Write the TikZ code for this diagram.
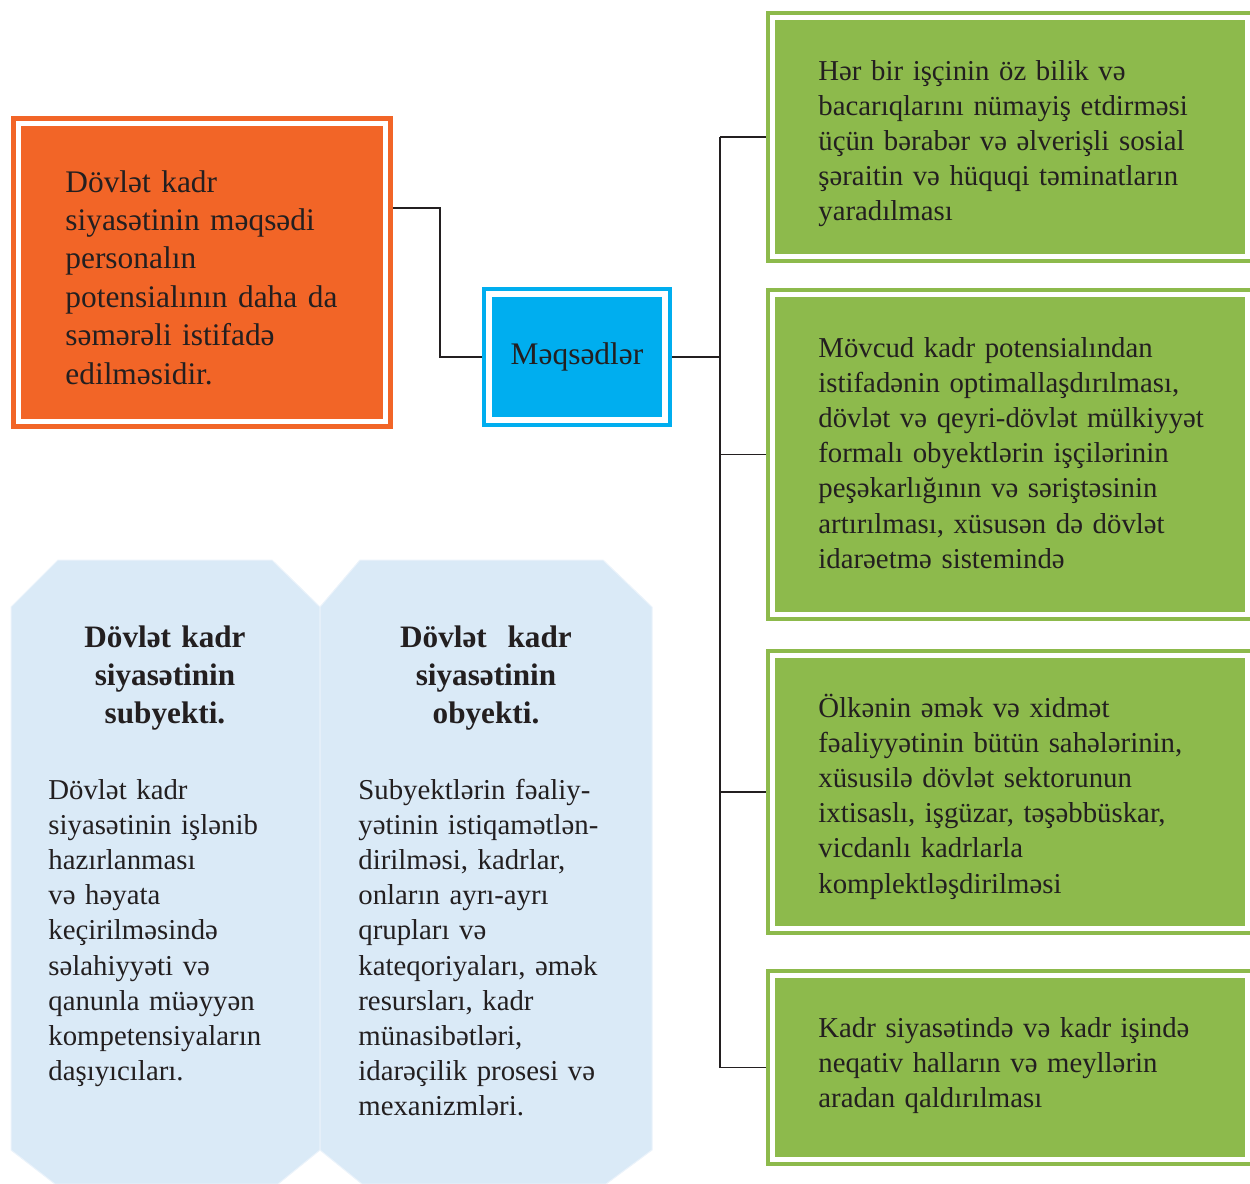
\documentclass[tikz,border=0pt]{standalone}
\usepackage{fontspec}
\setmainfont{Liberation Serif}
\usepackage{tikz}
\usetikzlibrary{positioning, calc}

\definecolor{kadrorange}{HTML}{F26527}
\definecolor{kadrblue}{HTML}{00AEEF}
\definecolor{kadrgreen}{HTML}{8DBA4C}
\definecolor{kadrpale}{HTML}{DAEAF7}
\definecolor{kadrink}{HTML}{231F20}

\newcommand\kadrbody{\fontsize{14.4pt}{17.6pt}\selectfont}
\newcommand\kadrbig{\fontsize{15.7pt}{19.2pt}\selectfont}
\newcommand\kadrhead{\fontsize{15.6pt}{19pt}\selectfont\bfseries}

\tikzset{
  goalbox/.style={draw=kadrorange, double=white, line width=2.5pt, double distance=2.5pt,
    fill=kadrorange, inner sep=0pt, outer sep=3.75pt},
  aimbox/.style={draw=kadrblue, double=white, line width=2pt, double distance=3pt,
    fill=kadrblue, inner sep=0pt, outer sep=3.5pt, font=\kadrbig,
    minimum width=88pt, minimum height=63pt},
  taskbox/.style={draw=kadrgreen, double=white, line width=2pt, double distance=2.5pt,
    fill=kadrgreen, inner sep=0pt, outer sep=3.25pt, minimum width=237.5pt},
  boxtext/.style={anchor=base west, inner sep=0pt, align=left, font=\kadrbody, text width=#1},
  octhead/.style={anchor=base, inner sep=0pt, align=center, font=\kadrhead, text width=140pt},
  octshape/.style={fill=kadrpale, draw=white!45!kadrpale, line width=0.5pt},
  link/.style={draw=kadrink, line width=0.75pt}
}

\begin{document}
\begin{tikzpicture}[x=0.5pt, y=-0.5pt, text=kadrink]
  \useasboundingbox (0,0) rectangle (1250,1184);
  \clip (0,0) rectangle (1250,1184);

  % subject and object panels
  \path[octshape] (11,607) -- (58,560) -- (272,560) -- (320,607) -- (320,1150)
    -- (278,1184) -- (55,1184) -- (11,1150) -- cycle;
  \path[octshape] (320,607) -- (360,560) -- (603,560) -- (652,607) -- (652,1150)
    -- (606,1184) -- (362,1184) -- (320,1150) -- cycle;

  \node[octhead] (subjhead) at (165,647) {Dövlət kadr\\siyasətinin\\subyekti.};
  \node[boxtext=130pt] (subjtext) at (48,799) {Dövlət kadr\\siyasətinin işlənib\\hazırlanması\\və həyata\\keçirilməsində\\səlahiyyəti və\\qanunla müəyyən\\kompetensiyaların\\daşıyıcıları.};
  \node[octhead] (objhead) at (486,647) {Dövlət~ kadr\\siyasətinin\\obyekti.};
  \node[boxtext=140pt] (objtext) at (358,799) {Subyektlərin fəaliy-\\yətinin istiqamətlən-\\dirilməsi, kadrlar,\\onların ayrı-ayrı\\qrupları və\\kateqoriyaları, əmək\\resursları, kadr\\münasibətləri,\\idarəçilik prosesi və\\mexanizmləri.};

  % goal and aims
  \node[goalbox, minimum width=183.5pt, minimum height=149pt] (goal) at (202,272.5) {};
  \node[boxtext=155pt, font=\kadrbig] (goaltext) at (65,192) {Dövlət kadr\\siyasətinin məqsədi\\personalın\\potensialının daha da\\səmərəli istifadə\\edilməsidir.};
  \node[aimbox] (aims) at (577,357) {Məqsədlər};

  % the four aims
  \node[taskbox, minimum height=119.5pt] (g1) at (1010,137) {};
  \node[taskbox, minimum height=160pt] (g2) at (1010,454.5) {};
  \node[taskbox, minimum height=136.5pt] (g3) at (1010,792) {};
  \node[taskbox, minimum height=92pt] (g4) at (1010,1067.5) {};

  \node[boxtext=210pt] (t1) at (818,80) {Hər bir işçinin öz bilik və\\bacarıqlarını nümayiş etdirməsi\\üçün bərabər və əlverişli sosial\\şəraitin və hüquqi təminatların\\yaradılması};
  \node[boxtext=210pt] (t2) at (818,357) {Mövcud kadr potensialından\\istifadənin optimallaşdırılması,\\dövlət və qeyri-dövlət mülkiyyət\\formalı obyektlərin işçilərinin\\peşəkarlığının və səriştəsinin\\artırılması, xüsusən də dövlət\\idarəetmə sistemində};
  \node[boxtext=210pt] (t3) at (818,717) {Ölkənin əmək və xidmət\\fəaliyyətinin bütün sahələrinin,\\xüsusilə dövlət sektorunun\\ixtisaslı, işgüzar, təşəbbüskar,\\vicdanlı kadrlarla\\komplektləşdirilməsi};
  \node[boxtext=210pt] (t4) at (818,1037) {Kadr siyasətində və kadr işində\\neqativ halların və meyllərin\\aradan qaldırılması};

  % connectors
  \coordinate (elbow) at (440,208);
  \coordinate (trunk) at (720,0);
  \draw[link] (goal.east |- elbow) -- (elbow) |- (aims.west);
  \draw[link] (aims.east) -- (aims.east -| trunk);
  \draw[link] (g1.west -| trunk) -- (g4.west -| trunk);
  \foreach \g in {g1,g2,g3,g4}
    \draw[link] (\g.west -| trunk) -- (\g.west);
\end{tikzpicture}
\end{document}
